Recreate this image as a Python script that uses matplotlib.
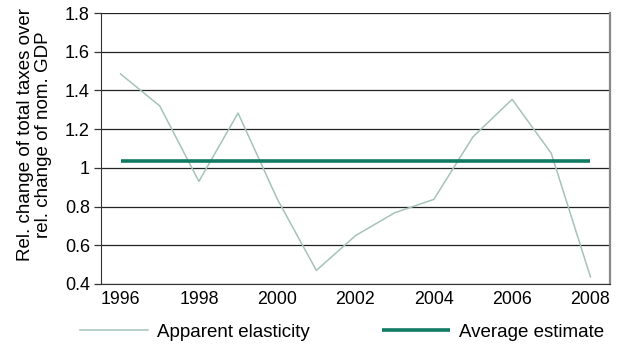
import matplotlib.pyplot as plt
import matplotlib.ticker as mticker

plt.rcParams['font.family'] = ['Liberation Sans', 'DejaVu Sans']

years = list(range(1996, 2009))
apparent = [1.485, 1.32, 0.93, 1.283, 0.84, 0.47, 0.65, 0.768, 0.837, 1.16, 1.354, 1.075, 0.437]
average = 1.037
yticks = [0.4, 0.6, 0.8, 1.0, 1.2, 1.4, 1.6, 1.8]
xticks = [1996, 1998, 2000, 2002, 2004, 2006, 2008]

fig = plt.figure(figsize=(6.22, 3.47), dpi=100)
ax = fig.add_axes([101/622, 1-284/347, 509/622, 271/347])

ax.plot(years, apparent, color='#a6c3b7', lw=1.1, label='Apparent elasticity')
ax.plot([years[0], years[-1]], [average, average], color='#117a62', lw=2.6,
        solid_capstyle='butt', label='Average estimate')

ax.set_xlim(1995.5, 2008.5)
ax.set_ylim(0.4, 1.8)
ax.set_yticks(yticks)
ax.yaxis.set_major_formatter(mticker.FuncFormatter(lambda v, p: '%g' % round(v, 1)))
ax.set_xticks(xticks)
ax.grid(axis='y', color='#222222', lw=0.9)
ax.set_axisbelow(True)

ax.tick_params(axis='y', length=5, width=0.9, color='#333333', labelsize=13, pad=3)
ax.tick_params(axis='x', length=0, labelsize=12.8, pad=5)
ax.spines['top'].set_visible(False)
ax.spines['left'].set_color('#333333')
ax.spines['bottom'].set_color('#333333')
ax.spines['right'].set_color('#888888')
ax.spines['right'].set_linewidth(1.6)

ax.set_ylabel('Rel. change of total taxes over\nrel. change of nom. GDP', fontsize=13.5,
              linespacing=1.05)
ax.yaxis.set_label_coords(-0.097, 0.55)

fig.legend(loc='center left', bbox_to_anchor=(80/622, 1-332/347), ncol=2, frameon=False,
           fontsize=13.5, handlelength=3.63, handletextpad=0.48, columnspacing=3.84,
           borderpad=0, borderaxespad=0)

fig.savefig('out.png', dpi=100)
